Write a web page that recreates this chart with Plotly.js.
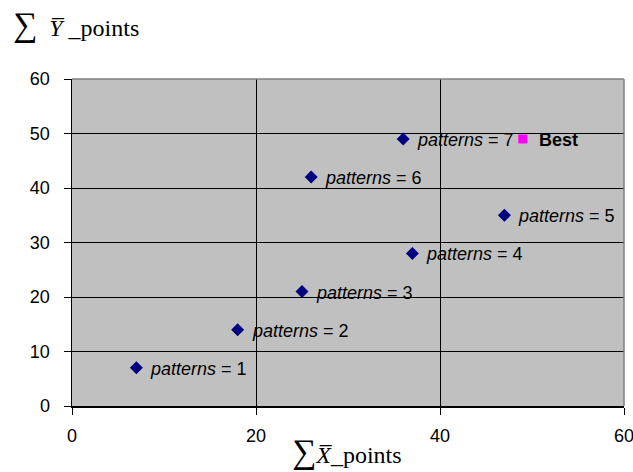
<!DOCTYPE html>
<html><head><meta charset="utf-8">
<script src="https://cdn.plot.ly/plotly-3.0.1.min.js"></script>
<style>html,body{margin:0;padding:0;background:#fff}</style>
</head><body>
<div id="chart" style="width:633px;height:472px"></div>
<script>
const xPoints = [7, 18, 25, 37, 47, 26, 36];
const yPoints = [7, 14, 21, 28, 35, 42, 49];
const patternCounts = [1, 2, 3, 4, 5, 6, 7];
const bestX = [49];
const bestY = [49];
const bestLabel = ['Best'];
const xTicks = [0, 20, 40, 60];
const yTicks = [0, 10, 20, 30, 40, 50, 60];

const labelFont = {family: 'Liberation Sans, Arial, sans-serif', size: 18, color: '#000'};
const serif = 'Liberation Serif, Times New Roman, serif';

const annotations = xPoints.map((x, i) => ({
  x: x, y: yPoints[i], xref: 'x', yref: 'y',
  text: '<i>patterns</i> = ' + patternCounts[i],
  showarrow: false, xanchor: 'left', yanchor: 'middle', xshift: 12, yshift: -1,
  font: labelFont
}));
annotations.push({
  x: bestX[0], y: bestY[0], xref: 'x', yref: 'y',
  text: '<b>' + bestLabel[0] + '</b>',
  showarrow: false, xanchor: 'left', yanchor: 'middle', xshift: 14, yshift: -1,
  font: labelFont
});
annotations.push({
  x: 0.395, y: -0.14, xref: 'paper', yref: 'paper',
  text: '<span style="font-size:34px">∑</span><i>X\u0305</i>_points', showarrow: false, xanchor: 'left', yanchor: 'middle',
  font: {family: serif, size: 24, color: '#000'}
});
annotations.push({
  xref: 'paper', yref: 'paper', x: -0.11, y: 1.165, xanchor: 'left', yanchor: 'middle',
  text: '<span style="font-size:34px">∑</span>  <i>Y\u0305</i> _points', showarrow: false,
  font: {family: serif, size: 24, color: '#000'}
});

const traces = [
  {x: xPoints, y: yPoints, type: 'scatter', mode: 'markers',
   marker: {symbol: 'diamond', size: 10, color: '#000080'}, showlegend: false, cliponaxis: false},
  {x: bestX, y: bestY, type: 'scatter', mode: 'markers',
   marker: {symbol: 'square', size: 9, color: '#FF00FF'}, showlegend: false, cliponaxis: false}
];

const tickFont = {family: 'Liberation Sans, Arial, sans-serif', size: 18, color: '#000'};

const layout = {
  width: 633, height: 472,
  margin: {l: 72, r: 9, t: 79, b: 66},
  paper_bgcolor: '#fff', plot_bgcolor: '#C0C0C0',
  showlegend: false,
  xaxis: {range: [0, 60], tickvals: xTicks, ticktext: xTicks.map(String), ticks: 'outside', ticklen: 7, tickcolor: '#000',
    showgrid: true, gridcolor: '#000', gridwidth: 1, zeroline: false,
    showline: true, linecolor: '#000', linewidth: 1.5,
    tickfont: tickFont, ticklabeloverflow: 'allow', automargin: false,
    ticklabelstandoff: 6},
  yaxis: {range: [0, 60], tickvals: yTicks, ticks: 'outside', ticklen: 7, tickcolor: '#000',
    showgrid: true, gridcolor: '#000', gridwidth: 1, zeroline: false,
    showline: true, linecolor: '#000', linewidth: 1.5,
    tickfont: tickFont, ticklabeloverflow: 'allow', automargin: false,
    ticklabelstandoff: 10},
  shapes: [
    {type: 'line', xref: 'paper', yref: 'paper', x0: 0, x1: 1, y0: 1, y1: 1, line: {color: '#808080', width: 1.5}},
    {type: 'line', xref: 'paper', yref: 'paper', x0: 1, x1: 1, y0: 0, y1: 1, line: {color: '#808080', width: 1.5}}
  ],
  annotations: annotations
};

Plotly.newPlot('chart', traces, layout, {staticPlot: true, displayModeBar: false});
</script>
</body></html>
